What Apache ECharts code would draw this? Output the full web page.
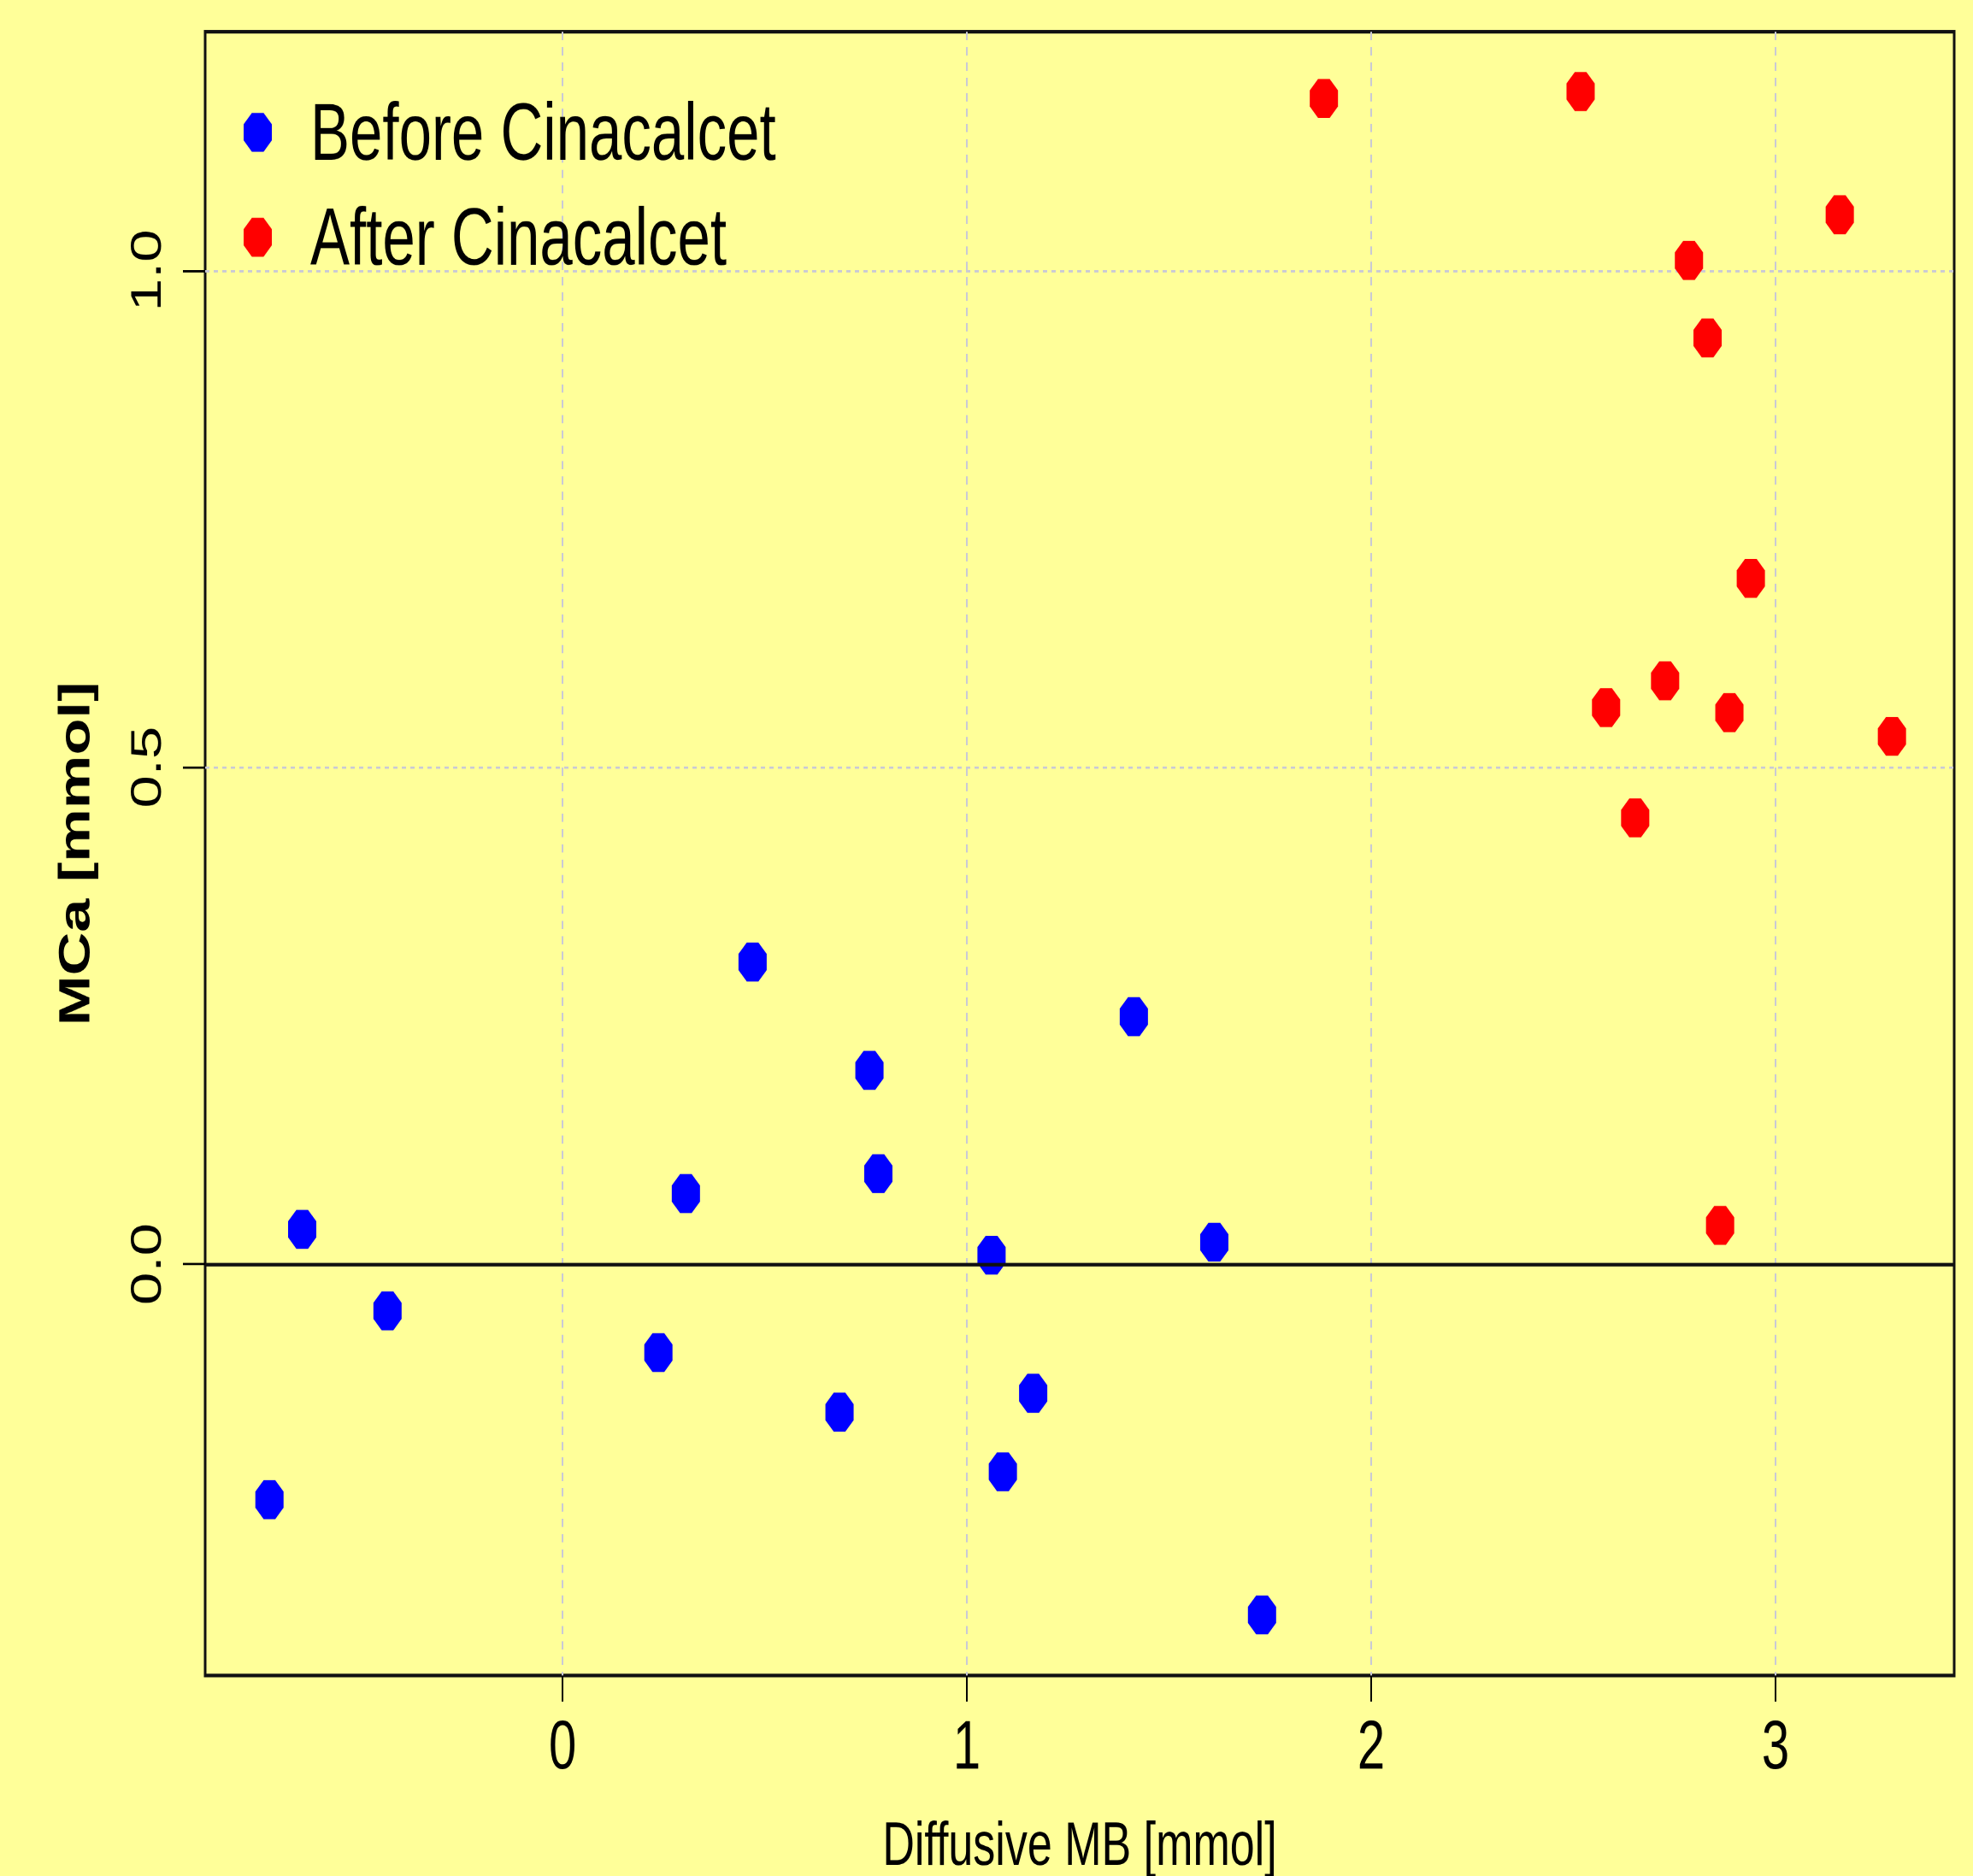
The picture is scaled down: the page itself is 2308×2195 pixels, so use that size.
<!DOCTYPE html>
<html>
<head>
<meta charset="utf-8">
<script src="https://cdn.jsdelivr.net/npm/echarts@6/dist/echarts.min.js"></script>
<style>
  html, body { margin: 0; padding: 0; background: #ffff99; }
  #wrap { width: 2308px; height: 2195px; position: relative; }
  /* the source figure was stretched vertically, so draw it flatter and stretch it the same way */
  #chart { position: absolute; left: 0; top: 0; width: 2308px; height: 1591px; transform: scaleY(1.3796); transform-origin: 0 0; }
</style>
</head>
<body>
<div id="wrap"><div id="chart"></div></div>
<script>
// values
const beforeX = [-0.644, -0.433, -0.725, 0.237, 0.305, 0.470, 0.685, 0.759, 0.781, 1.061, 1.089, 1.164, 1.413, 1.612, 1.730]
const beforeY = [0.035, -0.047, -0.237, -0.089, 0.071, 0.304, -0.149, 0.195, 0.091, 0.009, -0.209, -0.130, 0.249, 0.022, -0.353]
const afterX = [1.883, 2.518, 3.159, 2.786, 2.832, 2.939, 2.727, 2.581, 2.886, 3.288, 2.653, 2.863]
const afterY = [1.173, 1.180, 1.056, 1.010, 0.932, 0.690, 0.587, 0.560, 0.555, 0.531, 0.449, 0.039]
const xTicks = [0, 1, 2, 3]
const yTicks = [0, 0.5, 1.0]
const seriesNames = ['Before Cinacalcet', 'After Cinacalcet']

// R style octagon dot
const dot = 'path://M29.3,0L70.7,0L100,29.3L100,70.7L70.7,100L29.3,100L0,70.7L0,29.3Z'
// same dot for the legend, with an empty tail below so it sits a bit above the text middle
const legendDot = 'path://M29.3,0L70.7,0L100,29.3L100,70.7L70.7,100L29.3,100L0,70.7L0,29.3ZM50,126L50,126'
const sans = "'Liberation Sans', Arial, sans-serif"

const zip = (xs, ys) => xs.map((x, i) => [x, ys[i]])

const chart = echarts.init(document.getElementById('chart'), null, { renderer: 'canvas', devicePixelRatio: 2 })
chart.setOption({
  backgroundColor: '#ffff99',
  animation: false,
  grid: {
    left: 240,
    right: 22,
    top: 27,
    bottom: 170,
    outerBoundsMode: 'none', // the x title runs off the bottom edge like in the source
    show: true,
    borderColor: '#111',
    borderWidth: 3,
  },
  legend: {
    orient: 'vertical',
    left: 280,
    top: 77,
    itemWidth: 33,
    itemHeight: 42,
    itemGap: 20,
    icon: legendDot,
    textStyle: {
      fontFamily: sans,
      fontSize: 69,
      lineHeight: 67,
      color: '#000',
      padding: [0, 0, 0, 40],
    },
    data: seriesNames,
  },
  xAxis: {
    type: 'value',
    min: -0.884,
    max: 3.442,
    name: 'Diffusive MB [mmol]',
    nameLocation: 'middle',
    nameGap: 120,
    nameTextStyle: {
      fontFamily: sans,
      fontSize: 52,
      color: '#000',
    },
    axisLine: { show: false, onZero: false },
    axisTick: {
      show: true,
      inside: false,
      length: 22,
      customValues: xTicks,
      lineStyle: { color: '#000', width: 2 },
    },
    axisLabel: {
      customValues: xTicks,
      margin: 34,
      fontFamily: sans,
      fontSize: 58,
      color: '#000',
    },
    splitLine: {
      show: true,
      lineStyle: { color: '#c9c9d6', width: 2, type: [7, 6] },
    },
  },
  yAxis: {
    type: 'value',
    min: -0.414,
    max: 1.240,
    name: 'MCa [mmol]',
    nameLocation: 'middle',
    nameGap: 124,
    nameTextStyle: {
      fontFamily: sans,
      fontSize: 51,
      fontWeight: 'bold',
      color: '#000',
    },
    axisLine: { show: false, onZero: false },
    axisTick: {
      show: true,
      inside: false,
      length: 26,
      customValues: yTicks,
      lineStyle: { color: '#000', width: 2 },
    },
    axisLabel: {
      customValues: yTicks,
      rotate: 90,
      margin: 41,
      fontFamily: sans,
      fontSize: 50,
      color: '#000',
      formatter: (v) => v.toFixed(1),
    },
    splitLine: {
      show: true,
      lineStyle: { color: '#c9c9d6', width: 2, type: [5, 5] },
    },
  },
  series: [
    {
      name: seriesNames[0],
      type: 'scatter',
      symbol: dot,
      symbolSize: 33,
      itemStyle: { color: '#0000ff', opacity: 1 },
      data: zip(beforeX, beforeY),
      markLine: {
        silent: true,
        symbol: 'none',
        label: { show: false },
        lineStyle: { color: '#111', width: 3, type: 'solid' },
        data: [{ yAxis: 0 }],
      },
      z: 3,
    },
    {
      name: seriesNames[1],
      type: 'scatter',
      symbol: dot,
      symbolSize: 33,
      itemStyle: { color: '#ff0000', opacity: 1 },
      data: zip(afterX, afterY),
      z: 3,
    },
  ],
})
window.addEventListener('resize', () => {
  chart.resize()
})
</script>
</body>
</html>
